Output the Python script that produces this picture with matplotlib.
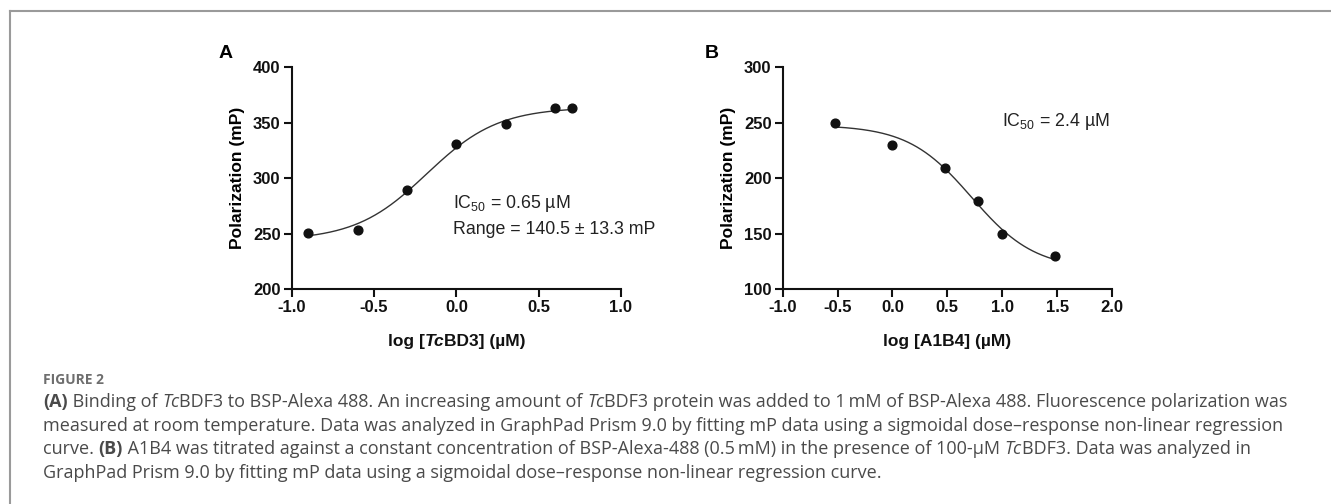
import numpy as np
import matplotlib
matplotlib.use("Agg")
import matplotlib.pyplot as plt
from matplotlib.lines import Line2D

# ---------------- data ----------------
a_logconc = [-0.9, -0.6, -0.3, 0.0, 0.3, 0.6, 0.7]
a_mp = [250.7, 253.4, 289.2, 330.6, 349.2, 363.6, 363.6]

b_logconc = [-0.52, 0.0, 0.48, 0.78, 1.0, 1.48]
b_mp = [249.5, 229.7, 209.6, 179.5, 149.8, 129.7]

# sigmoidal dose-response fit parameters (bottom, top, logEC50, hill)
a_fit = (244.0, 364.0, -0.18, 2.0)
b_fit = (248.0, 118.0, 0.72, 1.5)

a_xticks = [-1.0, -0.5, 0.0, 0.5, 1.0]
a_yticks = [200, 250, 300, 350, 400]
b_xticks = [-1.0, -0.5, 0.0, 0.5, 1.0, 1.5, 2.0]
b_yticks = [100, 150, 200, 250, 300]

caption_lines = [
    [("(A)", "b"), (" Binding of ", ""), ("Tc", "i"),
     ("BDF3 to BSP-Alexa 488. An increasing amount of ", ""), ("Tc", "i"),
     ("BDF3 protein was added to 1\u2009mM of BSP-Alexa 488. Fluorescence polarization was", "")],
    [("measured at room temperature. Data was analyzed in GraphPad Prism 9.0 by fitting mP data "
      "using a sigmoidal dose\u2013response non-linear regression", "")],
    [("curve. ", ""), ("(B)", "b"),
     (" A1B4 was titrated against a constant concentration of BSP-Alexa-488 (0.5\u2009mM) in the presence of 100-\u00b5M ", ""),
     ("Tc", "i"), ("BDF3. Data was analyzed in", "")],
    [("GraphPad Prism 9.0 by fitting mP data using a sigmoidal dose\u2013response non-linear regression curve.", "")],
]

W, H = 1331, 504
CHART_FONT = ["Liberation Sans", "DejaVu Sans"]
CAP_FONT = ["Open Sans", "DejaVu Sans"]

plt.rcParams["font.family"] = CHART_FONT
plt.rcParams["mathtext.fontset"] = "custom"
plt.rcParams["mathtext.rm"] = "Liberation Sans"
plt.rcParams["mathtext.it"] = "Liberation Sans:italic"
plt.rcParams["mathtext.bf"] = "Liberation Sans:bold"


def sigmoid(x, p):
    lo, hi, x0, h = p
    return lo + (hi - lo) / (1 + 10 ** ((x0 - x) * h))


fig = plt.figure(figsize=(W / 100, H / 100), dpi=100)
renderer = fig.canvas.get_renderer()


def px_w(s, **kw):
    # width of a string in pixels, spaces included
    t = fig.text(0, 0, "." + s + ".", **kw)
    t2 = fig.text(0, 0, "..", **kw)
    w = t.get_window_extent(renderer).width - t2.get_window_extent(renderer).width
    t.remove()
    t2.remove()
    return w


def draw_runs(x, y, parts, ha="left", **common):
    # x, y in pixels from the top-left corner, y is the baseline
    styled = []
    for s, st in parts:
        kw = dict(common)
        if "b" in st:
            kw["fontweight"] = "bold"
        if "i" in st:
            kw["fontstyle"] = "italic"
        styled.append((s, kw))
    widths = [px_w(s, **kw) for s, kw in styled]
    if ha == "center":
        x = x - sum(widths) / 2
    for (s, kw), w in zip(styled, widths):
        fig.text(x / W, 1 - y / H, s, va="baseline", ha="left", **kw)
        x += w


def style_axes(ax, xlim, ylim, xticks, yticks):
    ax.set_xlim(*xlim)
    ax.set_ylim(*ylim)
    ax.set_xticks(xticks)
    ax.set_yticks(yticks)
    ax.set_xticklabels([f"{v:.1f}" for v in xticks])
    ax.set_yticklabels([f"{v:d}" for v in yticks])
    for side in ("top", "right"):
        ax.spines[side].set_visible(False)
    for side in ("left", "bottom"):
        ax.spines[side].set_linewidth(1.5)
        ax.spines[side].set_color("#111111")
    ax.tick_params(direction="out", length=6, width=1.5, labelsize=12, pad=2, colors="#111111")
    for lab in ax.get_xticklabels() + ax.get_yticklabels():
        lab.set_fontweight("bold")
    ax.set_ylabel("Polarization (mP)", fontsize=12.5, fontweight="bold", labelpad=6)
    ax.patch.set_alpha(0)


# ---------------- panel A ----------------
axA = fig.add_axes([291.7 / W, 1 - 289.3 / H, 329.3 / W, 222 / H])
xa = np.linspace(a_logconc[0], a_logconc[-1], 300)
axA.plot(xa, sigmoid(xa, a_fit), color="#333333", lw=1.0, zorder=2)
axA.plot(a_logconc, a_mp, "o", color="#111111", ms=6.3, zorder=3, clip_on=False)
style_axes(axA, (-1.0, 1.0), (200, 400), a_xticks, a_yticks)
axA.text(-0.02, 277.5, "IC$_{50}$ = 0.65 \u00b5M", fontsize=12.8, va="center", color="#222222")
axA.text(-0.02, 253.5, "Range = 140.5 \u00b1 13.3 mP", fontsize=12.8, va="center", color="#222222")

# ---------------- panel B ----------------
axB = fig.add_axes([782.7 / W, 1 - 289.3 / H, 329.3 / W, 222 / H])
xb = np.linspace(b_logconc[0], b_logconc[-1], 300)
axB.plot(xb, sigmoid(xb, b_fit), color="#333333", lw=1.0, zorder=2)
axB.plot(b_logconc, b_mp, "o", color="#111111", ms=6.3, zorder=3, clip_on=False)
style_axes(axB, (-1.0, 2.0), (100, 300), b_xticks, b_yticks)
axB.text(1.0, 251, "IC$_{50}$ = 2.4 \u00b5M", fontsize=12.8, va="center", color="#222222")

# panel letters
fig.text(219 / W, 1 - 53 / H, "A", fontsize=14, fontweight="bold", va="center")
fig.text(705 / W, 1 - 53 / H, "B", fontsize=14, fontweight="bold", va="center")

# x-axis labels with italic species prefix
draw_runs(457, 346, [("log [", "b"), ("Tc", "bi"), ("BD3] (\u00b5M)", "b")], ha="center",
          fontsize=12.5, family=CHART_FONT, color="#111111")
draw_runs(947, 346, [("log [A1B4] (\u00b5M)", "b")], ha="center",
          fontsize=12.5, family=CHART_FONT, color="#111111")

# ---------------- frame + caption ----------------
fig.add_artist(Line2D([9.5 / W, 9.5 / W], [0, 1 - 10.5 / H], transform=fig.transFigure,
                      color="#9a9a9a", lw=1.5))
fig.add_artist(Line2D([9.5 / W, 1], [1 - 10.5 / H, 1 - 10.5 / H], transform=fig.transFigure,
                      color="#9a9a9a", lw=1.5))

fig.text(43 / W, 1 - 384 / H, "FIGURE 2", fontsize=10, fontweight="bold",
         family=CAP_FONT, color="#6e6e6e", va="baseline")
for i, line in enumerate(caption_lines):
    draw_runs(43, 407 + i * 23.7, line, fontsize=13.0, family=CAP_FONT, color="#4a4a4a")

fig.savefig("out.png", dpi=100)
